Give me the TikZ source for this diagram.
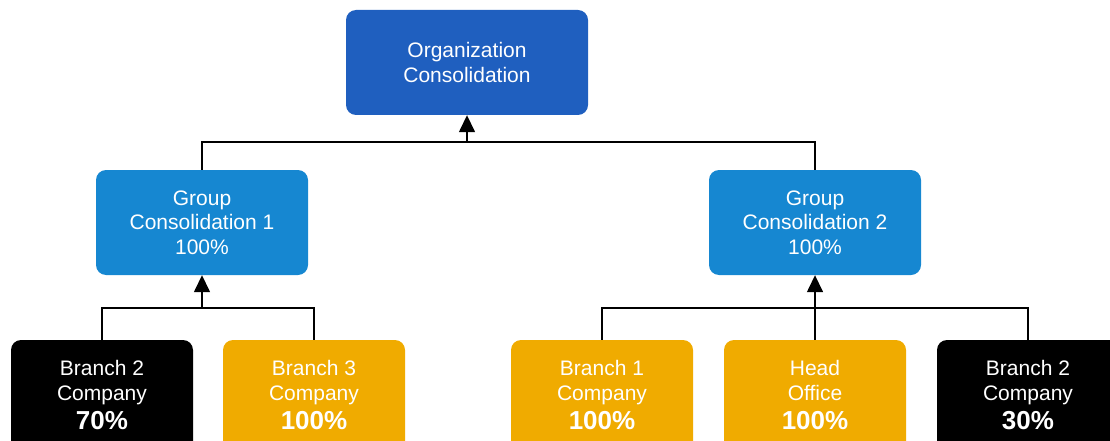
\documentclass[tikz,border=0pt]{standalone}
\usepackage{fontspec}
\setmainfont{Liberation Sans}
\usetikzlibrary{arrows.meta,positioning}

\definecolor{orgblue}{RGB}{31,95,191}
\definecolor{grpblue}{RGB}{22,135,209}
\definecolor{brorange}{RGB}{240,171,0}

\newcommand{\share}[1]{{\fontsize{26}{26}\selectfont\bfseries #1}}

\begin{document}
\begin{tikzpicture}[x=1pt, y=-1pt,
		box/.style={rounded corners=10pt, minimum height=105pt, align=center, text=white, inner sep=0pt, font=\fontsize{21}{24.5}\selectfont},
		org/.style={box, fill=orgblue, minimum width=242pt},
		grp/.style={box, fill=grpblue, minimum width=212pt},
		br/.style={box, fill=brorange, minimum width=182pt, minimum height=111pt},
		blk/.style={box, fill=black, minimum width=182pt, minimum height=111pt},
		link/.style={line width=1.5pt},
		up/.style={link, -{Triangle[width=16pt,length=17pt]}}]
	\useasboundingbox (0,0) rectangle (1110,441);
	\clip (0,0) rectangle (1110,441);

	\node[org] (org) at (467,62.5) {Organization\\Consolidation};
	\node[grp] (g1) at (202,222.5) {Group\\Consolidation 1\\100\%};
	\node[grp] (g2) at (815,222.5) {Group\\Consolidation 2\\100\%};

	\node[blk] (b2a) at (102,395.5) {Branch 2\\Company\\[5pt]\share{70\%}};
	\node[br] (b3) at (314,395.5) {Branch 3\\Company\\[5pt]\share{100\%}};
	\node[br] (b1) at (602,395.5) {Branch 1\\Company\\[5pt]\share{100\%}};
	\node[br] (ho) at (815,395.5) {Head\\Office\\[5pt]\share{100\%}};
	\node[blk] (b2b) at (1028,395.5) {Branch 2\\Company\\[5pt]\share{30\%}};

	% junctions
	\coordinate (j0) at (org.south |- 0,142);
	\coordinate (j1) at (g1.south |- 0,308);
	\coordinate (j2) at (g2.south |- 0,308);

	\draw[link] (g1.north) |- (j0) -| (g2.north);
	\draw[up] (j0) -- (org.south);

	\draw[link] (b2a.north) |- (j1) -| (b3.north);
	\draw[up] (j1) -- (g1.south);

	\draw[link] (b1.north) |- (j2) -| (b2b.north);
	\draw[link] (ho.north) -- (j2);
	\draw[up] (j2) -- (g2.south);
\end{tikzpicture}
\end{document}
